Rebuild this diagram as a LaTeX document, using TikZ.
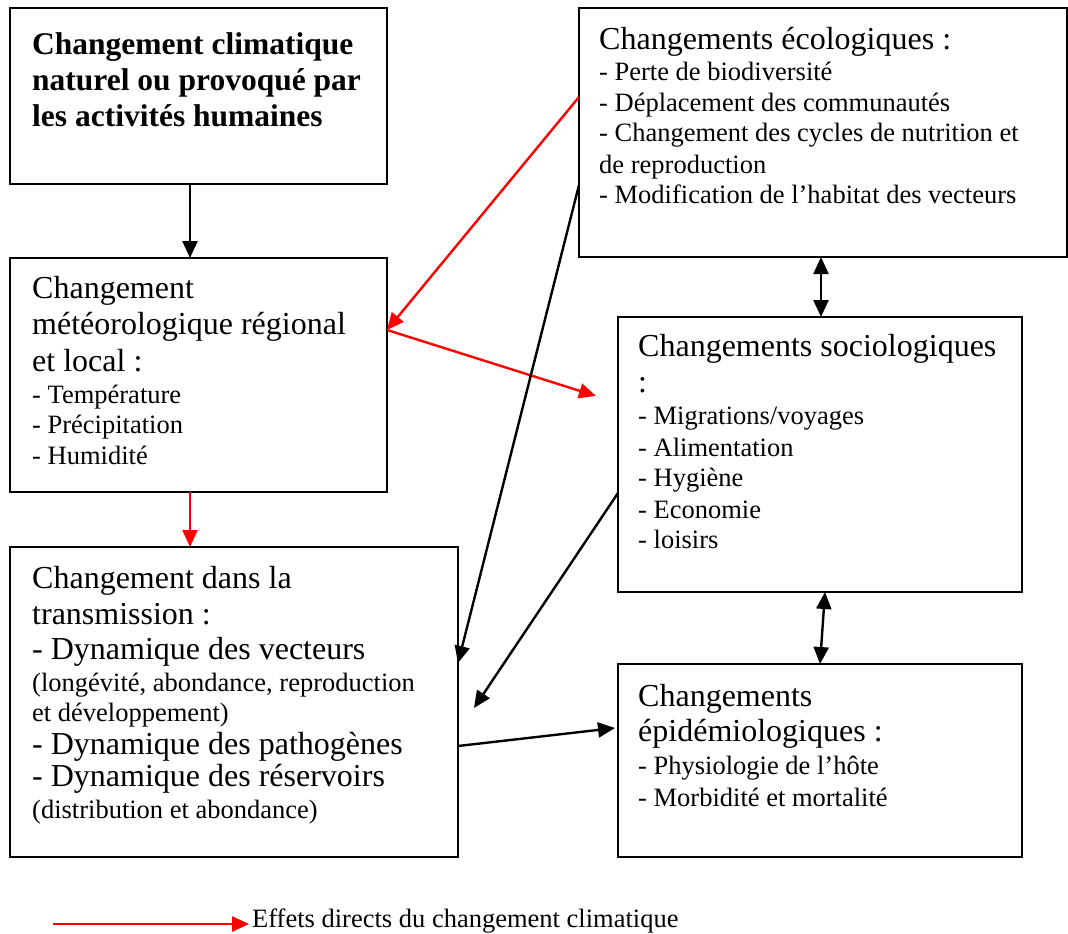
\documentclass[tikz,border=0pt]{standalone}
\usepackage{fontspec}
\setmainfont{Liberation Serif}
\usetikzlibrary{arrows.meta}
\begin{document}
\begin{tikzpicture}[x=1pt,y=-1pt,
  box/.style={draw, line width=1.8pt, rectangle, anchor=north west, inner sep=0pt, outer sep=0pt},
  H/.style={anchor=base west, inner sep=0pt, font=\fontsize{32}{36}\selectfont},
  S/.style={anchor=base west, inner sep=0pt, font=\fontsize{26.5}{30}\selectfont},
  T/.style={anchor=base west, inner sep=0pt, font=\fontsize{31.5}{36}\selectfont\bfseries},
  conn/.style={line width=2.4pt, -{Triangle[length=17pt,width=15pt]}},
  dconn/.style={line width=2.4pt, {Triangle[length=17pt,width=15pt]}-{Triangle[length=17pt,width=15pt]}},
  redconn/.style={conn, red}]
\useasboundingbox (0,0) rectangle (1068,934);
% boxes
\node[box, minimum width=377pt, minimum height=176pt] (A) at (10,8) {};
\node[box, minimum width=377pt, minimum height=234pt] (B) at (10,258) {};
\node[box, minimum width=448pt, minimum height=310pt] (C) at (10,547) {};
\node[box, minimum width=488pt, minimum height=249pt] (D) at (579,8) {};
\node[box, minimum width=404pt, minimum height=275pt] (E) at (618,317) {};
\node[box, minimum width=404pt, minimum height=193pt] (F) at (618,664) {};
% box A
\node[T] (a1) at (32,55) {Changement climatique};
\node[T] (a2) at (32,90) {naturel ou provoqué par};
\node[T] (a3) at (32,126) {les activités humaines};
% box B
\node[H] (b1) at (32,298) {Changement};
\node[H] (b2) at (32,334) {météorologique régional};
\node[H] (b3) at (32,371) {et local :};
\node[S] (b4) at (32,403) {- Température};
\node[S] (b5) at (32,433) {- Précipitation};
\node[S] (b6) at (32,464) {- Humidité};
% box C
\node[H] (c1) at (32,588) {Changement dans la};
\node[H] (c2) at (32,624) {transmission :};
\node[H] (c3) at (32,659) {- Dynamique des vecteurs};
\node[S] (c4) at (32,691) {(longévité, abondance, reproduction};
\node[S] (c5) at (32,721) {et développement)};
\node[H] (c6) at (32,754) {- Dynamique des pathogènes};
\node[H] (c7) at (32,786) {- Dynamique des réservoirs};
\node[S] (c8) at (32,818) {(distribution et abondance)};
% box D
\node[H] (d1) at (599,49) {Changements écologiques :};
\node[S] (d2) at (599,81) {- Perte de biodiversité};
\node[S] (d3) at (599,111) {- Déplacement des communautés};
\node[S] (d4) at (599,141) {- Changement des cycles de nutrition et};
\node[S] (d5) at (599,173) {de reproduction};
\node[S] (d6) at (599,203) {- Modification de l’habitat des vecteurs};
% box E
\node[H] (e1) at (638,356) {Changements sociologiques};
\node[H] (e2) at (638,392) {:};
\node[S] (e3) at (638,424) {- Migrations/voyages};
\node[S] (e4) at (638,456) {- Alimentation};
\node[S] (e5) at (638,486) {- Hygiène};
\node[S] (e6) at (638,518) {- Economie};
\node[S] (e7) at (638,548) {- loisirs};
% box F
\node[H] (f1) at (638,706) {Changements};
\node[H] (f2) at (638,741) {épidémiologiques :};
\node[S] (f3) at (638,774) {- Physiologie de l’hôte};
\node[S] (f4) at (638,806) {- Morbidité et mortalité};
% connectors
\draw[conn] ([xshift=180pt]A.south west) -- ([xshift=180pt]B.north west);
\draw[redconn] ([xshift=180pt]B.south west) -- ([xshift=180pt]C.north west);
\draw[redconn] ([yshift=-89pt]D.north west) -- ([yshift=-72pt]B.north east);
\draw[redconn] ([yshift=-72pt]B.north east) -- ([xshift=-22pt,yshift=-79pt]E.north west);
\draw[conn] ([yshift=-177pt]D.north west) -- ([yshift=-116pt]C.north east);
\draw[conn] ([yshift=-176pt]E.north west) -- ([xshift=16pt,yshift=-161pt]C.north east);
\draw[conn] ([yshift=-199pt]C.north east) -- ([xshift=-3pt,yshift=-64pt]F.north west);
\draw[dconn] ([xshift=242pt]D.south west) -- ([xshift=203pt]E.north west);
\draw[dconn] ([xshift=207pt]E.south west) -- ([xshift=202pt]F.north west);
% legend
\coordinate (l1) at (53,924);
\coordinate (l2) at (249,924);
\draw[redconn] (l1) -- (l2);
\node[S] (leg) at (252,927) {Effets directs du changement climatique};
\end{tikzpicture}
\end{document}
